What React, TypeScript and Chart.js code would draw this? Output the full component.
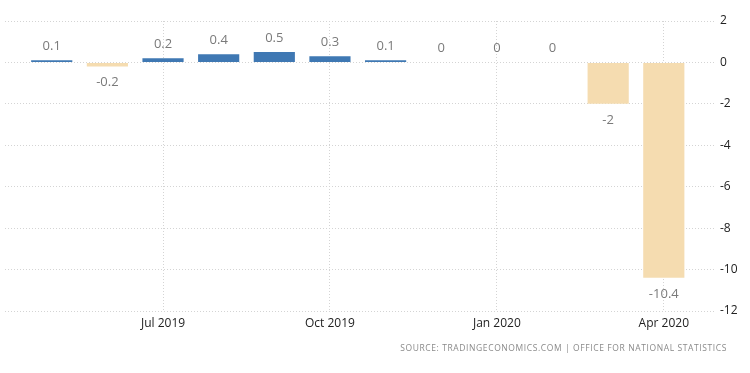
import React, { useEffect, useRef } from "react";
import { Chart, registerables } from "chart.js";

Chart.register(...registerables);

const months = ["May 2019", "Jun 2019", "Jul 2019", "Aug 2019", "Sep 2019", "Oct 2019", "Nov 2019", "Dec 2019", "Jan 2020", "Feb 2020", "Mar 2020", "Apr 2020"];
const values = [0.1, -0.2, 0.2, 0.4, 0.5, 0.3, 0.1, 0, 0, 0, -2, -10.4];
const xTickMonths = ["Jul 2019", "Oct 2019", "Jan 2020", "Apr 2020"];
const yTicks = [2, 0, -2, -4, -6, -8, -10, -12];

const BLUE = "#3f78b3";
const BEIGE = "#f5dcb0";
const FONT = "'Open Sans', 'Noto Sans', sans-serif";

const labelPlugin = {
  id: "valueLabels",
  afterDatasetsDraw(chart: any) {
    const ctx = chart.ctx;
    const meta = chart.getDatasetMeta(0);
    ctx.save();
    ctx.font = `13px ${FONT}`;
    ctx.fillStyle = "#7a7a7a";
    ctx.textAlign = "center";
    ctx.textBaseline = "middle";
    meta.data.forEach((bar: any, i: number) => {
      const v = values[i];
      const txt = String(v);
      if (v >= 0) {
        ctx.fillText(txt, bar.x, bar.y - 14);
      } else {
        ctx.fillText(txt, bar.x, bar.y + 16);
      }
    });
    ctx.restore();
  },
};

export default function App() {
  const ref = useRef<HTMLCanvasElement | null>(null);

  useEffect(() => {
    document.body.style.margin = "0";
    const canvas = ref.current;
    if (!canvas) return;
    const points = values.map((v, i) => ({ x: i, y: v }));
    const chart = new Chart(canvas, {
      type: "bar",
      data: {
        datasets: [
          {
            data: points as any,
            backgroundColor: values.map((v) => (v >= 0 ? BLUE : BEIGE)),
            borderWidth: 0,
            barPercentage: 0.74,
            categoryPercentage: 1,
          },
        ],
      },
      options: {
        animation: false,
        responsive: false,
        maintainAspectRatio: false,
        layout: { padding: { left: 5, top: 21, right: 0, bottom: 0 } },
        plugins: { legend: { display: false }, tooltip: { enabled: false } },
        scales: {
          x: {
            type: "linear",
            offset: false,
            min: -0.84,
            max: 11.92,
            grid: {
              offset: false,
              color: "#d4d4d4",
              drawTicks: false,
            },
            border: { display: false, dash: [1, 2] },
            afterBuildTicks(axis: any) {
              axis.ticks = xTickMonths.map((m) => ({ value: months.indexOf(m) }));
            },
            afterFit(axis: any) {
              axis.height = 373 - 311;
            },
            ticks: {
              padding: 5,
              autoSkip: false,
              maxRotation: 0,
              color: "#222",
              font: { family: FONT, size: 12 },
              callback: (val: any) => months[Number(val)] ?? "",
            },
          },
          y: {
            position: "right",
            min: -12,
            max: 2,
            grid: { color: "#d4d4d4", drawTicks: false },
            border: { display: false, dash: [1, 2] },
            afterBuildTicks(axis: any) {
              axis.ticks = yTicks.map((v) => ({ value: v }));
            },
            afterFit(axis: any) {
              axis.width = 750 - 715;
            },
            ticks: {
              padding: 5,
              color: "#222",
              font: { family: FONT, size: 12 },
            },
          },
        },
      },
      plugins: [labelPlugin],
    });
    return () => chart.destroy();
  }, []);

  return (
    <div style={{ position: "relative", width: 750, height: 373, background: "#fff" }}>
      <canvas ref={ref} width={750} height={373} style={{ display: "block" }} />
      <div
        style={{
          position: "absolute",
          right: 23,
          top: 342,
          fontFamily: FONT,
          fontSize: 8.5,
          letterSpacing: 0.6,
          color: "#8a8a8a",
          whiteSpace: "nowrap",
        }}
      >
        SOURCE: TRADINGECONOMICS.COM | OFFICE FOR NATIONAL STATISTICS
      </div>
    </div>
  );
}
